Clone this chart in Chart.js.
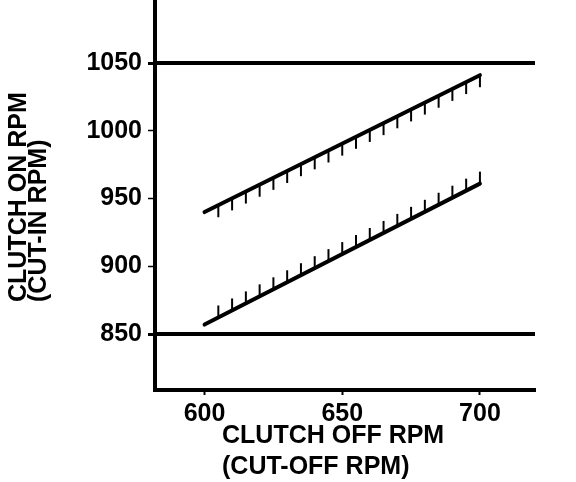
<!DOCTYPE html>
<html>
<head>
<meta charset="utf-8">
<script src="https://cdn.jsdelivr.net/npm/chart.js@4/dist/chart.umd.min.js"></script>
<style>
  html, body { margin: 0; padding: 0; background: #fff; }
  #wrap { width: 576px; height: 482px; position: relative; }
</style>
</head>
<body>
<div id="wrap"><canvas id="c" width="576" height="482"></canvas></div>
<script>
// ---- data ----
const offRpm = [600, 700];              // clutch off rpm (x)
const cutInUpper = [940, 1041];          // upper band line (hatched below)
const cutInLower = [857, 961];           // lower band line (hatched above)
const limitX = [582, 720];
const upperLimit = [1050, 1050];
const lowerLimit = [850, 850];
const xTicks = [600, 650, 700];
const yTicks = [850, 900, 950, 1000, 1050];
const xTitleLines = ['CLUTCH OFF RPM', '(CUT-OFF RPM)'];
const yTitleLines = ['CLUTCH ON RPM', '(CUT-IN RPM)'];

const FONT = '"Liberation Sans", Arial, Helvetica, sans-serif';

const toXY = (xs, ys) => xs.map((x, i) => ({ x: x, y: ys[i] }));

const hatchPlugin = {
  id: 'hatch',
  afterDatasetsDraw(chart) {
    const ctx = chart.ctx;
    const xs = chart.scales.x;
    chart.data.datasets.forEach((ds, i) => {
      if (!ds.hatch) return;
      const meta = chart.getDatasetMeta(i);
      const p0 = meta.data[0], p1 = meta.data[meta.data.length - 1];
      ctx.save();
      ctx.strokeStyle = '#000';
      ctx.lineWidth = ds.hatch.width;
      for (let v = ds.hatch.from; v <= ds.hatch.to + 1e-9; v += ds.hatch.step) {
        const px = xs.getPixelForValue(v);
        const t = (px - p0.x) / (p1.x - p0.x);
        const py = p0.y + t * (p1.y - p0.y);
        ctx.beginPath();
        ctx.moveTo(px, py);
        ctx.lineTo(px, py + ds.hatch.dir * ds.hatch.len);
        ctx.stroke();
      }
      ctx.restore();
    });
  }
};

const titlePlugin = {
  id: 'axisTitles',
  afterDraw(chart) {
    const ctx = chart.ctx;
    const area = chart.chartArea;
    ctx.save();
    ctx.fillStyle = '#000';
    ctx.font = 'bold 25px ' + FONT;
    ctx.textAlign = 'left';
    ctx.textBaseline = 'middle';
    xTitleLines.forEach((t, i) => {
      ctx.fillText(t, 222, area.bottom + 46 + i * 31);
    });
    yTitleLines.forEach((t, i) => {
      ctx.save();
      ctx.translate(19 + i * 20, 302);
      ctx.rotate(-Math.PI / 2);
      ctx.font = 'bold 25px ' + FONT;
      ctx.fillText(t, 0, 0);
      ctx.restore();
    });
    ctx.restore();
  }
};

new Chart(document.getElementById('c'), {
  type: 'line',
  data: {
    datasets: [
      { data: toXY(limitX, upperLimit), borderColor: '#000', borderWidth: 4, pointRadius: 0 },
      { data: toXY(limitX, lowerLimit), borderColor: '#000', borderWidth: 4, pointRadius: 0 },
      { data: toXY(offRpm, cutInUpper), borderColor: '#000', borderWidth: 4, pointRadius: 0,
        borderCapStyle: 'round', hatch: { from: 605, to: 700, step: 5, len: 12, dir: 1, width: 2 } },
      { data: toXY(offRpm, cutInLower), borderColor: '#000', borderWidth: 4, pointRadius: 0,
        borderCapStyle: 'round', hatch: { from: 605, to: 700, step: 5, len: 12, dir: -1, width: 2 } }
    ]
  },
  options: {
    responsive: false,
    animation: false,
    layout: { padding: { left: 0, top: 0, right: 41, bottom: 0 } },
    plugins: { legend: { display: false }, tooltip: { enabled: false }, title: { display: false } },
    scales: {
      x: {
        type: 'linear', min: 582, max: 720,
        afterFit(s) { s.height = 92; s.paddingLeft = 0; s.paddingRight = 0; },
        afterBuildTicks(s) { s.ticks = xTicks.map(v => ({ value: v })); },
        grid: { drawOnChartArea: false, drawTicks: true, tickLength: 5, tickWidth: 2, tickColor: '#000' },
        border: { display: true, color: '#000', width: 4 },
        ticks: { color: '#000', font: { family: FONT, size: 25, weight: 'bold' }, padding: 4, maxRotation: 0,
                 callback: (v) => String(v) }
      },
      y: {
        type: 'linear', min: 808.7, max: 1096.5,
        afterFit(s) { s.width = 155; s.paddingTop = 0; s.paddingBottom = 0; },
        afterBuildTicks(s) { s.ticks = yTicks.map(v => ({ value: v })); },
        grid: { drawOnChartArea: false, drawTicks: true, tickLength: 7,
                tickWidth: (c) => (c.tick && (c.tick.value === 850 || c.tick.value === 1050)) ? 3 : 1.5,
                tickColor: '#000' },
        border: { display: true, color: '#000', width: 4 },
        ticks: { color: '#000', font: { family: FONT, size: 25, weight: 'bold' }, padding: 6,
                 callback: (v) => String(v) }
      }
    }
  },
  plugins: [hatchPlugin, titlePlugin]
});
</script>
</body>
</html>
